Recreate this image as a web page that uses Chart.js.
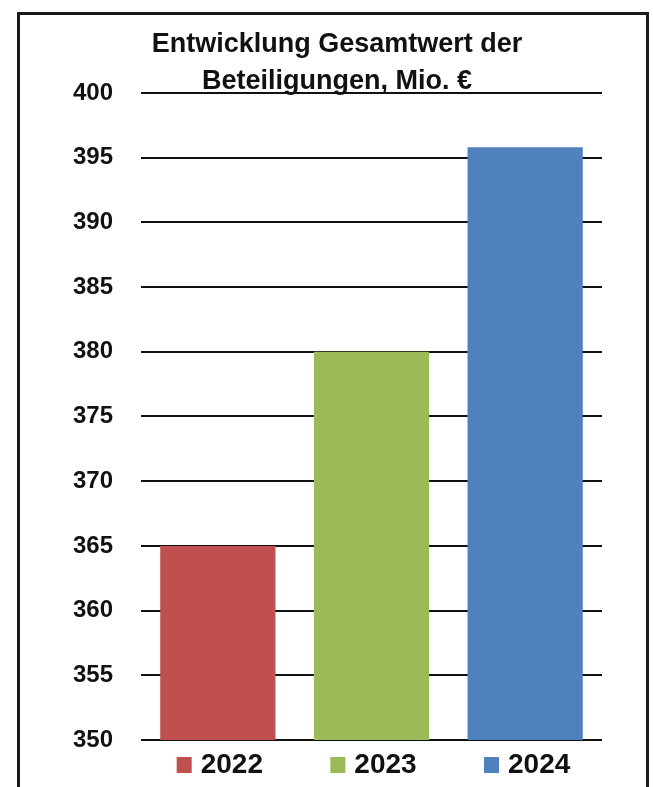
<!DOCTYPE html>
<html>
<head>
<meta charset="utf-8">
<script src="https://cdn.jsdelivr.net/npm/chart.js@4"></script>
<style>
	body { margin: 0; background: #fff; }
	#wrap { position: relative; width: 653px; height: 787px; overflow: hidden; }
	#frame {
		position: absolute; left: 17px; top: 12px; width: 626px; height: 800px;
		border: 3px solid #1a1a1a; pointer-events: none;
	}
	canvas { position: absolute; left: 0; top: 0; }
</style>
</head>
<body>
<div id="wrap">
	<canvas id="lienzo" width="653" height="787"></canvas>
	<div id="frame"></div>
</div>
<script>
// data
const years = ['2022', '2023', '2024'];
const values = [365, 380, 395.8];
const titleLines = ['Entwicklung Gesamtwert der', 'Beteiligungen, Mio. €'];
const yMin = 350;
const yMax = 400;
const yStep = 5;

const barColors = ['#c0504d', '#9bbb59', '#4f81bd'];
const fontFamily = '"Liberation Sans", Arial, sans-serif';

// legend under the bars, one item per category, centered on the bar
const yearLegend = {
	id: 'yearLegend',
	afterDraw: (chart) => {
		const {ctx, chartArea, scales} = chart;
		ctx.save();
		ctx.font = 'bold 28px ' + fontFamily;
		ctx.textBaseline = 'middle';
		ctx.textAlign = 'left';
		const cy = chartArea.bottom + 24;
		years.forEach((yr, i) => {
			const tw = ctx.measureText(yr).width;
			const total = 15 + 9 + tw;
			const cx = scales.x.getPixelForValue(i);
			const left = cx - total / 2 + 2;
			ctx.fillStyle = barColors[i];
			ctx.fillRect(left, cy - 7, 15, 16);
			ctx.fillStyle = '#111';
			ctx.fillText(yr, left + 24, cy + 1);
		});
		ctx.restore();
	}
};

new Chart(document.getElementById('lienzo'), {
	type: 'bar',
	data: {
		labels: years,
		datasets: [{
			label: 'Gesamtwert',
			data: values,
			backgroundColor: barColors,
			borderWidth: 0,
			categoryPercentage: 1,
			barPercentage: 0.75
		}]
	},
	options: {
		responsive: false,
		animation: false,
		layout: {
			padding: { left: 72, right: 51, top: 15, bottom: 47 }
		},
		scales: {
			x: {
				display: false
			},
			y: {
				min: yMin,
				max: yMax,
				afterFit: (s) => { s.width = 69; },
				ticks: {
					stepSize: yStep,
					padding: 28,
					color: '#111',
					font: { family: fontFamily, size: 24, weight: 'bold' }
				},
				grid: {
					color: '#111',
					lineWidth: 2,
					drawTicks: false
				},
				border: { display: false }
			}
		},
		plugins: {
			legend: { display: false },
			tooltip: { enabled: false },
			title: {
				display: true,
				text: titleLines,
				color: '#111',
				font: { family: fontFamily, size: 27, weight: 'bold', lineHeight: 1.37 },
				padding: { top: 11, bottom: -7 }
			}
		}
	},
	plugins: [yearLegend]
});
</script>
</body>
</html>
